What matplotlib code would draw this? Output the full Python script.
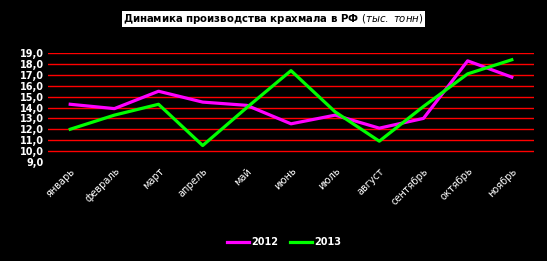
import matplotlib.pyplot as plt

# данные
months = ['январь', 'февраль', 'март', 'апрель', 'май', 'июнь', 'июль',
          'август', 'сентябрь', 'октябрь', 'ноябрь']
y2012 = [14.3, 13.9, 15.5, 14.5, 14.2, 12.5, 13.3, 12.1, 13.0, 18.3, 16.8]
y2013 = [12.0, 13.3, 14.3, 10.5, 14.0, 17.4, 13.6, 10.9, 14.1, 17.1, 18.4]
yticks = [9, 10, 11, 12, 13, 14, 15, 16, 17, 18, 19]

fig = plt.figure(figsize=(5.47, 2.61), dpi=100, facecolor='black')
ax = fig.add_axes([0.088, 0.38, 0.888, 0.416], facecolor='black')

x = range(len(months))
ax.plot(x, y2012, color='#ff00ff', lw=2.3, label='2012')
ax.plot(x, y2013, color='#00ff00', lw=2.3, label='2013')

ax.set_xlim(-0.5, len(months) - 0.5)
ax.set_ylim(9, 19)
ax.set_yticks(yticks)
ax.set_yticklabels([f'{v:.1f}'.replace('.', ',') for v in yticks],
                   color='white', fontsize=7, fontweight='bold')
for v in yticks[1:]:
    ax.axhline(v, color='red', lw=1, zorder=0)

ax.set_xticks(list(x))
ax.set_xticklabels(months, rotation=45, ha='right', rotation_mode='anchor',
                   color='white', fontsize=7)
ax.tick_params(length=0, pad=3)
for s in ax.spines.values():
    s.set_visible(False)

fig.text(0.5, 0.928, r'Динамика производства крахмала в РФ $\it{(тыс.\ тонн)}$',
         ha='center', va='center', fontsize=7.3, fontweight='bold', color='black',
         bbox=dict(facecolor='white', edgecolor='none', pad=0.8))

leg = fig.legend(loc='center', bbox_to_anchor=(0.52, 0.073), ncol=2,
                 frameon=False, fontsize=7, handlelength=2.2, columnspacing=1.2,
                 handletextpad=0.3)
for t in leg.get_texts():
    t.set_color('white')
    t.set_fontweight('bold')

fig.savefig('out.png', dpi=100, facecolor='black')
